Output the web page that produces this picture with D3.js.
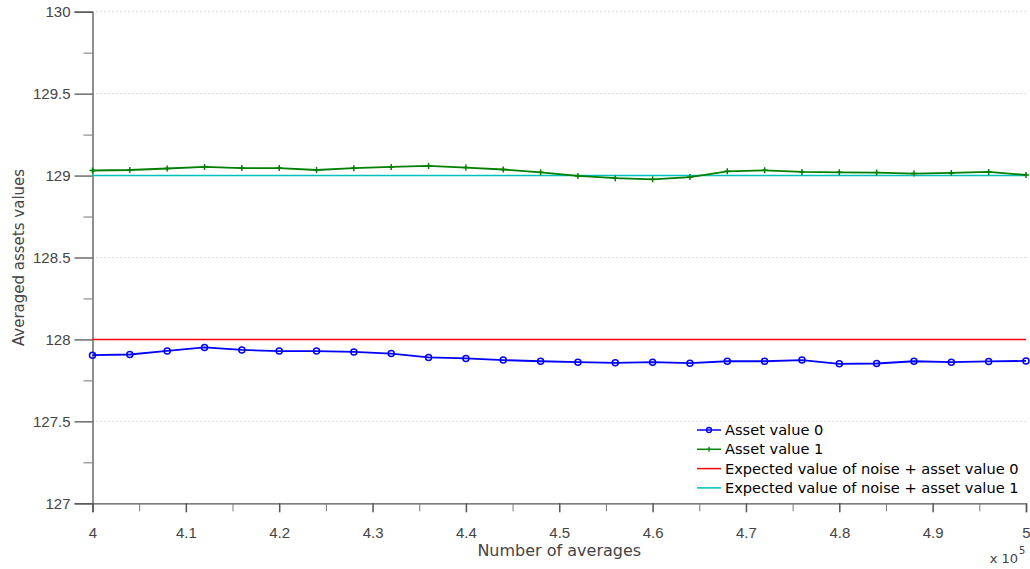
<!DOCTYPE html>
<html>
<head>
<meta charset="utf-8">
<script src="https://cdn.jsdelivr.net/npm/d3@7"></script>
<style>
  body { margin: 0; background: #fff; }
  svg { display: block; font-family: "DejaVu Sans", "Liberation Sans", sans-serif; }
</style>
</head>
<body>
<svg id="chart" width="1030" height="569"></svg>
<script>
// number of averages (x 10^5)
const xs = [4.00, 4.04, 4.08, 4.12, 4.16, 4.20, 4.24, 4.28, 4.32, 4.36, 4.40, 4.44, 4.48,
            4.52, 4.56, 4.60, 4.64, 4.68, 4.72, 4.76, 4.80, 4.84, 4.88, 4.92, 4.96, 5.00];

const asset0 = [127.904, 127.908, 127.930, 127.951, 127.936, 127.929, 127.929, 127.924, 127.914,
                127.890, 127.884, 127.874, 127.867, 127.861, 127.857, 127.861, 127.855, 127.867,
                127.867, 127.874, 127.851, 127.853, 127.867, 127.861, 127.866, 127.869];

const asset1 = [129.031, 129.034, 129.043, 129.053, 129.046, 129.046, 129.034, 129.045, 129.053,
                129.059, 129.049, 129.037, 129.020, 128.998, 128.984, 128.977, 128.991, 129.026,
                129.032, 129.022, 129.020, 129.018, 129.012, 129.016, 129.022, 129.004];

const expected0 = 128;
const expected1 = 129;

const yTicks = [127, 127.5, 128, 128.5, 129, 129.5, 130];
const xTicks = [4, 4.1, 4.2, 4.3, 4.4, 4.5, 4.6, 4.7, 4.8, 4.9, 5];

const legendLabels = ["Asset value 0", "Asset value 1",
  "Expected value of noise + asset value 0", "Expected value of noise + asset value 1"];

const svg = d3.select("#chart");
const m = { left: 92.5, right: 1026, top: 11.7, bottom: 503.3 };

const x = d3.scaleLinear().domain([4, 5]).range([m.left, m.right]);
const y = d3.scaleLinear().domain([127, 130]).range([m.bottom, m.top]);

const axisColor = "#555";
const textColor = "#444";

// Grid
svg.append("g")
  .selectAll("line")
  .data(yTicks.filter(d => d > 127))
  .join("line")
  .attr("x1", m.left).attr("x2", m.right)
  .attr("y1", d => y(d)).attr("y2", d => y(d))
  .attr("stroke", "#bbb")
  .attr("stroke-dasharray", "1,3");

// Y axis
const yAxis = svg.append("g").attr("transform", `translate(${m.left},0)`)
  .call(d3.axisLeft(y).tickValues(yTicks).tickSize(18).tickPadding(4).tickFormat(d3.format("")));
yAxis.select(".domain").attr("stroke", axisColor).attr("stroke-width", 1.3);
yAxis.selectAll(".tick line").attr("stroke", axisColor).attr("stroke-width", 1.3);
yAxis.selectAll(".tick text").attr("fill", textColor).attr("font-size", 15);

svg.append("g").attr("transform", `translate(${m.left},0)`)
  .call(d3.axisLeft(y).tickValues(d3.range(127.25, 130, 0.5)).tickSize(9).tickFormat(""))
  .call(g => g.select(".domain").remove())
  .selectAll(".tick line").attr("stroke", "#777");

// X axis
const xAxis = svg.append("g").attr("transform", `translate(0,${m.bottom})`)
  .call(d3.axisBottom(x).tickValues(xTicks).tickSize(9).tickPadding(15).tickFormat(d3.format("")));
xAxis.select(".domain").attr("stroke", axisColor).attr("stroke-width", 1.3);
xAxis.selectAll(".tick line").attr("stroke", axisColor).attr("stroke-width", 1.5);
xAxis.selectAll(".tick text").attr("fill", textColor).attr("font-size", 15);

svg.append("g").attr("transform", `translate(0,${m.bottom})`)
  .call(d3.axisBottom(x).tickValues(d3.range(4.05, 5, 0.1)).tickSize(8).tickFormat(""))
  .call(g => g.select(".domain").remove())
  .selectAll(".tick line").attr("stroke", "#777");

// Axis labels
svg.append("text")
  .attr("x", (m.left + m.right) / 2).attr("y", 556)
  .attr("text-anchor", "middle").attr("fill", textColor).attr("font-size", 16)
  .text("Number of averages");

svg.append("text")
  .attr("transform", `translate(24,${(m.top + m.bottom) / 2}) rotate(-90)`)
  .attr("text-anchor", "middle").attr("fill", textColor).attr("font-size", 15)
  .text("Averaged assets values");

svg.append("text")
  .attr("x", 1018).attr("y", 563)
  .attr("text-anchor", "end").attr("fill", textColor).attr("font-size", 13)
  .text("x 10");
svg.append("text")
  .attr("x", 1019).attr("y", 554)
  .attr("fill", textColor).attr("font-size", 10)
  .text("5");

// Expected value lines
svg.append("line")
  .attr("x1", x(4)).attr("x2", x(5))
  .attr("y1", y(expected0)).attr("y2", y(expected0))
  .attr("stroke", "#ff0000").attr("stroke-width", 1.5);
svg.append("line")
  .attr("x1", x(4)).attr("x2", x(5))
  .attr("y1", y(expected1)).attr("y2", y(expected1))
  .attr("stroke", "#00bfbf").attr("stroke-width", 1.5);

const line = d3.line().x((d, i) => x(xs[i])).y(d => y(d));

// Asset value 1 (green, plus markers)
svg.append("path").datum(asset1)
  .attr("d", line).attr("fill", "none")
  .attr("stroke", "#008000").attr("stroke-width", 1.8);
svg.append("g").selectAll("path")
  .data(asset1)
  .join("path")
  .attr("d", (d, i) => `M${x(xs[i]) - 3},${y(d)}h6M${x(xs[i])},${y(d) - 3}v6`)
  .attr("stroke", "#008000").attr("stroke-width", 1.5);

// Asset value 0 (blue, circle markers)
svg.append("path").datum(asset0)
  .attr("d", line).attr("fill", "none")
  .attr("stroke", "#0000ff").attr("stroke-width", 1.8);
svg.append("g").selectAll("circle")
  .data(asset0)
  .join("circle")
  .attr("cx", (d, i) => x(xs[i])).attr("cy", d => y(d))
  .attr("r", 3).attr("fill", "none")
  .attr("stroke", "#0000ff").attr("stroke-width", 1.5);

// Legend
const legendColors = ["#0000ff", "#008000", "#ff0000", "#00bfbf"];
const leg = svg.append("g").attr("transform", "translate(697,430)");
legendLabels.forEach((lab, i) => {
  const g = leg.append("g").attr("transform", `translate(0,${i * 19.3})`);
  g.append("line").attr("x1", 0).attr("x2", 24).attr("y1", 0).attr("y2", 0)
    .attr("stroke", legendColors[i]).attr("stroke-width", 1.5);
  if (i === 0) {
    g.append("circle").attr("cx", 12).attr("cy", 0).attr("r", 2.5)
      .attr("fill", "none").attr("stroke", legendColors[i]).attr("stroke-width", 1.3);
  } else if (i === 1) {
    g.append("path").attr("d", "M9.5,0h5M12,-2.5v5")
      .attr("stroke", legendColors[i]).attr("stroke-width", 1.3);
  }
  g.append("text").attr("x", 28).attr("y", 5)
    .attr("font-size", 14.6).attr("fill", "#000")
    .text(lab);
});
</script>
</body>
</html>
